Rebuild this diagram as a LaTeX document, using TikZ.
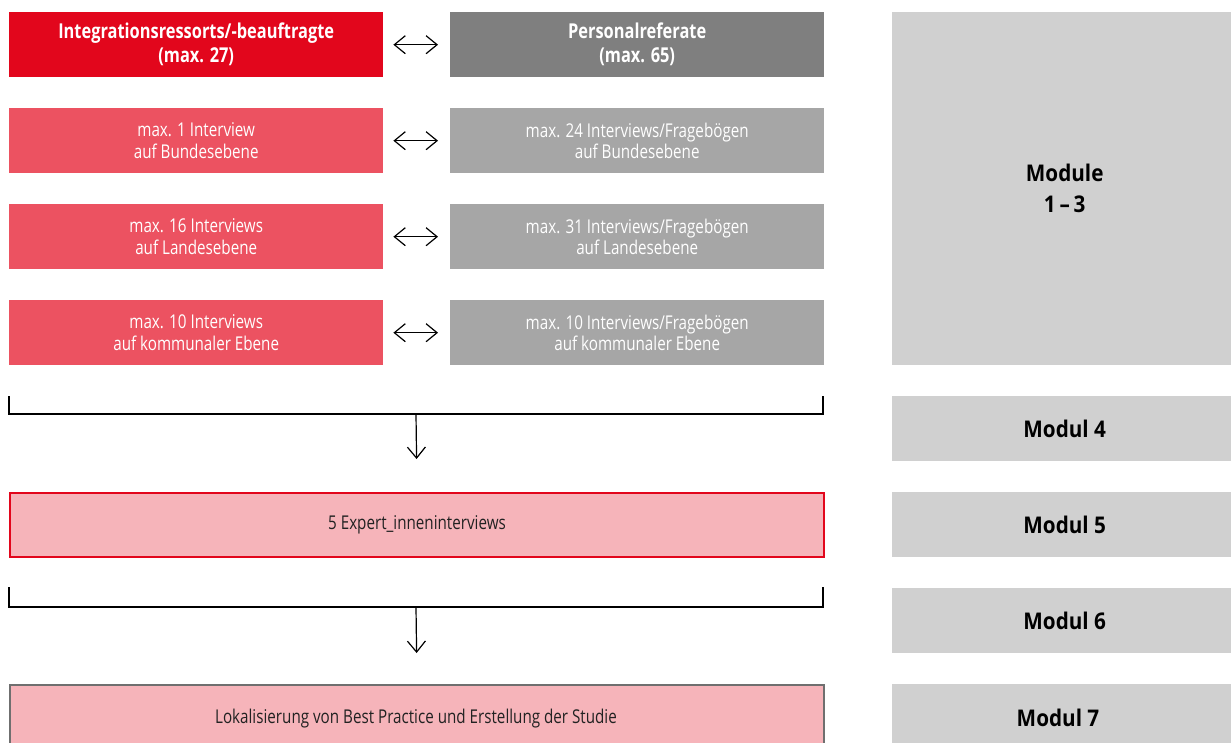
\documentclass[tikz,border=0pt]{standalone}
\usepackage{fontspec}
\setmainfont{Open Sans}[FakeStretch=0.8]
\newfontfamily\modfont{Open Sans}[FakeStretch=0.9]
\usetikzlibrary{arrows.meta}
\definecolor{hred}{HTML}{E2061C}
\definecolor{lred}{HTML}{EC5261}
\definecolor{dgrey}{HTML}{7F7F7F}
\definecolor{lgrey}{HTML}{A6A6A6}
\definecolor{pinkf}{HTML}{F6B4BA}
\definecolor{modg}{HTML}{D0D0D0}
\definecolor{bordg}{HTML}{6F6F6F}
\definecolor{txt}{HTML}{222222}
\tikzset{
  box/.style={rectangle, anchor=north west, inner sep=0pt, minimum width=374pt, minimum height=65pt, align=center, text=white, font=\fontsize{19}{21.5}\selectfont},
  headbox/.style={box, font=\fontsize{20.5}{24}\selectfont\bfseries},
  widebox/.style={rectangle, anchor=north west, inner sep=0pt, minimum width=814pt, minimum height=64pt, align=center, text=txt, fill=pinkf, line width=2pt, font=\fontsize{19}{22}\selectfont},
  modfnt/.style={font=\modfont\fontsize{23}{31}\selectfont\bfseries},
  modbox/.style={rectangle, anchor=north west, inner sep=0pt, minimum width=345pt, minimum height=65pt, fill=modg, align=center, modfnt},
  dbl/.style={{Straight Barb[length=11pt,width=18pt]}-{Straight Barb[length=11pt,width=18pt]}, line width=1.2pt, shorten <=10pt, shorten >=12pt},
  down/.style={-{Straight Barb[length=11pt,width=18pt]}, line width=1.2pt},
  brack/.style={line width=1.5pt, line cap=rect}
}
\begin{document}
\begin{tikzpicture}[x=1pt,y=-1pt]
\useasboundingbox (0,0) rectangle (1231,742);
\clip (0,0) rectangle (1231,742);
% left column
\node[headbox, fill=hred] (l0) at (9,12) {Integrationsressorts/-beauftragte\\(max. 27)};
\node[box, fill=lred] (l1) at (9,108) {max. 1 Interview\\auf Bundesebene};
\node[box, fill=lred] (l2) at (9,204) {max. 16 Interviews\\auf Landesebene};
\node[box, fill=lred] (l3) at (9,300) {max. 10 Interviews\\auf kommunaler Ebene};
% right column
\node[headbox, fill=dgrey] (r0) at (450,12) {Personalreferate\\(max. 65)};
\node[box, fill=lgrey] (r1) at (450,108) {max. 24 Interviews/Fragebögen\\auf Bundesebene};
\node[box, fill=lgrey] (r2) at (450,204) {max. 31 Interviews/Fragebögen\\auf Landesebene};
\node[box, fill=lgrey] (r3) at (450,300) {max. 10 Interviews/Fragebögen\\auf kommunaler Ebene};
% double arrows
\draw[dbl] (l0.east) -- (r0.west);
\draw[dbl] (l1.east) -- (r1.west);
\draw[dbl] (l2.east) -- (r2.west);
\draw[dbl] (l3.east) -- (r3.west);
% wide boxes
\node[widebox, draw=hred] (ex) at (9,492) {5 Expert\_inneninterviews};
\node[widebox, draw=bordg, minimum height=70pt] (lok) at (9,684) {};
\node[text=txt, font=\fontsize{19}{22}\selectfont] (loktxt) at (416,719) {Lokalisierung von Best Practice und Erstellung der Studie};
% brackets
\coordinate (b1a) at (9,397);
\coordinate (b1b) at (823,397);
\coordinate (b1m) at (416,414);
\draw[brack] (b1a) |- (b1b |- b1m) -- (b1b);
\draw[down, shorten >=33pt] (b1m) -- (ex.north);
\coordinate (b2a) at (9,588);
\coordinate (b2b) at (823,588);
\coordinate (b2m) at (416,607);
\draw[brack] (b2a) |- (b2b |- b2m) -- (b2b);
\draw[down, shorten >=31pt] (b2m) -- (lok.north);
% module boxes
\node[modbox, minimum height=353pt] (m13) at (892,12) {Module\\1\,–\,3};
\node[modbox] (m4) at (892,396) {Modul 4};
\node[modbox] (m5) at (892,492) {Modul 5};
\node[modbox] (m6) at (892,588) {Modul 6};
\node[modbox, minimum height=70pt] (m7) at (892,684) {};
\node[modfnt] (m7t) at (1058,718) {Modul 7};
\end{tikzpicture}
\end{document}
